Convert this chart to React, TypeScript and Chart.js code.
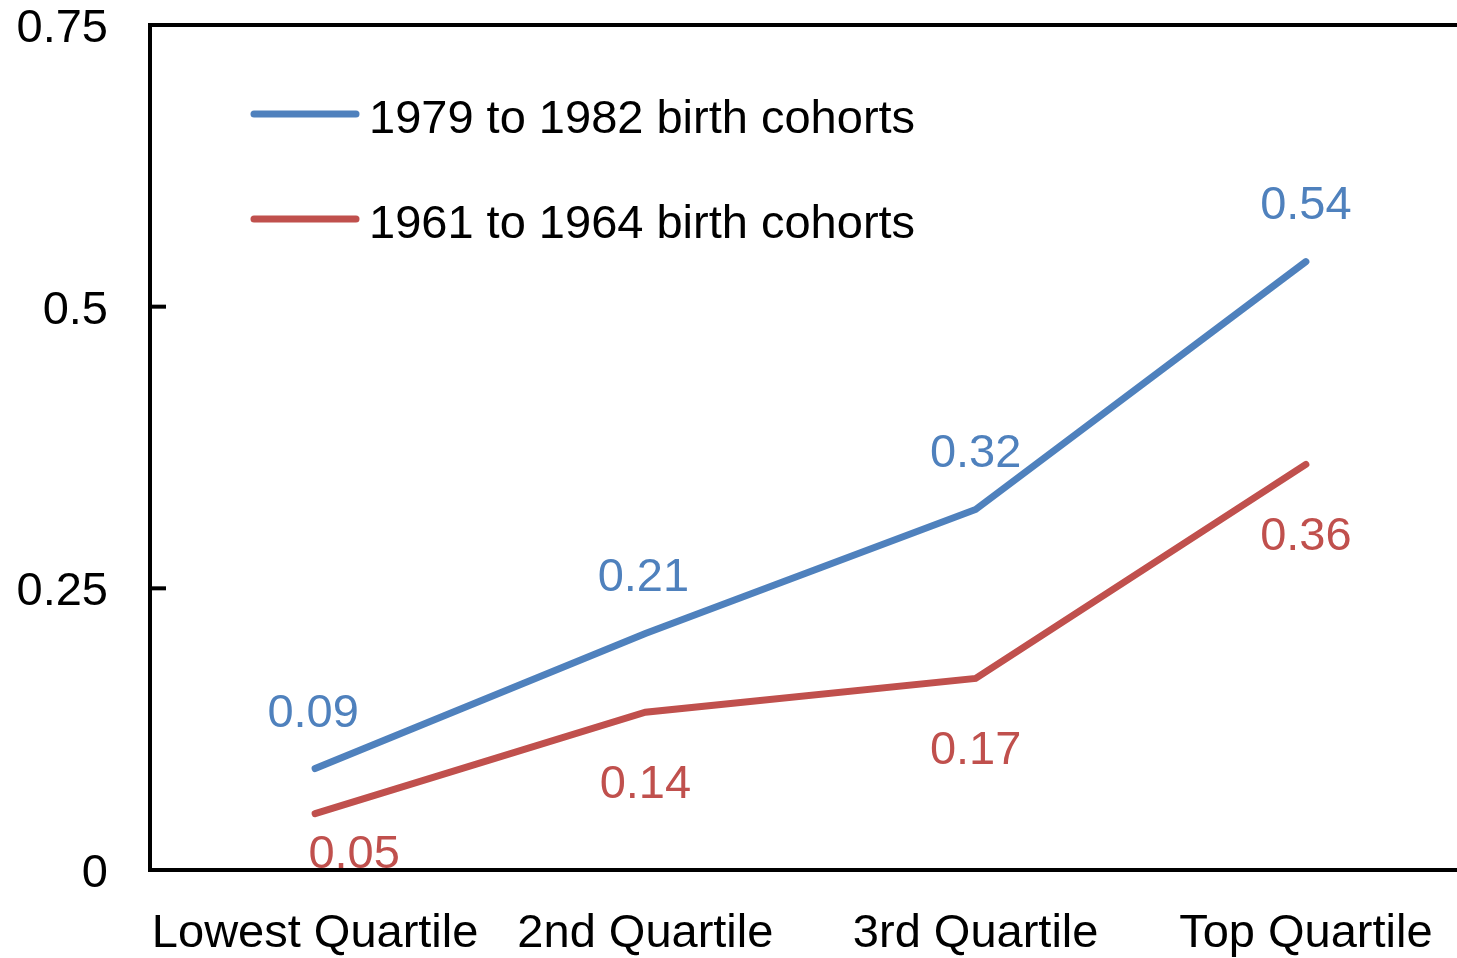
import { useEffect, useRef } from "react";
import Chart from "chart.js/auto";

const categories = ["Lowest Quartile", "2nd Quartile", "3rd Quartile", "Top Quartile"];
const cohorts1979 = [0.09, 0.21, 0.32, 0.54];
const cohorts1961 = [0.05, 0.14, 0.17, 0.36];
const seriesNames = ["1979 to 1982 birth cohorts", "1961 to 1964 birth cohorts"];
const yTickValues = [0, 0.25, 0.5, 0.75];

const FONT = "'Liberation Sans', Arial, Helvetica, sans-serif";
const FS = 47;
const BLUE = "#4F81BD";
const RED = "#C0504D";

const overlayPlugin = {
  id: "overlay",
  afterDatasetsDraw(chart: any, _args: any, opts: any) {
    const ctx = chart.ctx as CanvasRenderingContext2D;
    const { left, top } = chart.chartArea;
    const yScale = chart.scales.y;
    ctx.save();
    // inside tick marks
    ctx.strokeStyle = "#000";
    ctx.lineWidth = 4;
    yTickValues.slice(1, -1).forEach((v) => {
      const py = yScale.getPixelForValue(v);
      ctx.beginPath();
      ctx.moveTo(left, py);
      ctx.lineTo(left + 16, py);
      ctx.stroke();
    });
    // data labels
    ctx.font = `${FS}px ${FONT}`;
    ctx.textAlign = "center";
    ctx.textBaseline = "alphabetic";
    chart.data.datasets.forEach((ds: any, di: number) => {
      const meta = chart.getDatasetMeta(di);
      const offs = opts.labelOffsets[di];
      meta.data.forEach((pt: any, i: number) => {
        const [dx, dy] = offs[i];
        ctx.fillStyle = ds.borderColor;
        ctx.fillText(Number(ds.data[i]).toFixed(2), pt.x + dx, pt.y + dy);
      });
    });
    // legend
    ctx.lineCap = "round";
    ctx.lineWidth = 7;
    ctx.textAlign = "left";
    chart.data.datasets.forEach((ds: any, di: number) => {
      const ly = top + 89 + di * 105;
      ctx.strokeStyle = ds.borderColor;
      ctx.beginPath();
      ctx.moveTo(left + 104, ly);
      ctx.lineTo(left + 206, ly);
      ctx.stroke();
      ctx.fillStyle = "#000";
      ctx.fillText(ds.label, left + 219, ly + 19);
    });
    ctx.restore();
  },
};

export default function App() {
  const ref = useRef<HTMLCanvasElement>(null);
  useEffect(() => {
    if (!ref.current) return;
    const chart = new Chart(ref.current, {
      type: "line",
      data: {
        labels: categories,
        datasets: [
          {
            label: seriesNames[0],
            data: cohorts1979,
            borderColor: BLUE,
            backgroundColor: BLUE,
            borderWidth: 7,
            pointRadius: 0,
            borderCapStyle: "round",
            tension: 0,
          },
          {
            label: seriesNames[1],
            data: cohorts1961,
            borderColor: RED,
            backgroundColor: RED,
            borderWidth: 7,
            pointRadius: 0,
            borderCapStyle: "round",
            tension: 0,
          },
        ],
      },
      options: {
        responsive: false,
        animation: false,
        layout: { padding: { top: 25, right: 4, bottom: 0, left: 0 }, autoPadding: false },
        plugins: {
          legend: { display: false },
          tooltip: { enabled: false },
          overlay: {
            labelOffsets: [
              [[-2, -42], [-2, -42], [0, -42], [0, -43]],
              [[39, 54], [0, 86], [0, 86], [0, 86]],
            ],
          },
        } as any,
        scales: {
          x: {
            offset: true,
            grid: { display: false },
            border: { display: true, color: "#000", width: 4 },
            ticks: {
              color: "#000",
              font: { family: FONT, size: FS, lineHeight: 1 },
              padding: 33,
              maxRotation: 0,
              autoSkip: false,
            },
            afterFit: (s: any) => {
              s.height = 88;
              s.paddingLeft = 0;
              s.paddingRight = 0;
            },
          },
          y: {
            min: 0,
            max: 0.75,
            afterBuildTicks: (s: any) => {
              s.ticks = yTickValues.map((v) => ({ value: v }));
            },
            ticks: {
              color: "#000",
              font: { family: FONT, size: FS, lineHeight: 1 },
              padding: 42,
              labelOffset: 4,
              callback: (v: any) => String(v),
            },
            grid: {
              drawTicks: false,
              lineWidth: 4,
              color: (c: any) => (c.tick && c.tick.value === 0.75 ? "#000" : "rgba(0,0,0,0)"),
            },
            border: { display: true, color: "#000", width: 4 },
            afterFit: (s: any) => {
              s.width = 150;
              s.paddingTop = 0;
              s.paddingBottom = 0;
            },
          },
        },
      },
      plugins: [overlayPlugin],
    });
    return () => chart.destroy();
  }, []);
  return (
    <div
      style={{
        position: "fixed",
        left: 0,
        top: 0,
        width: 1457,
        height: 958,
        overflow: "hidden",
        background: "#fff",
      }}
    >
      <canvas ref={ref} width={1475} height={958} style={{ display: "block" }} />
    </div>
  );
}
